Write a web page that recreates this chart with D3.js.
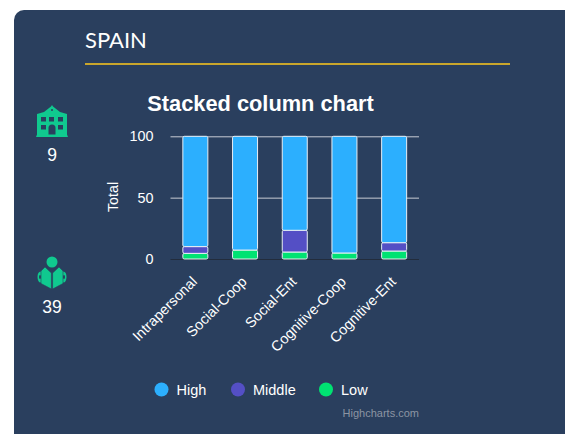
<!DOCTYPE html>
<html>
<head>
<meta charset="utf-8">
<script src="https://cdn.jsdelivr.net/npm/d3@7"></script>
<style>
  html, body { margin: 0; padding: 0; background: #fff; overflow: hidden; }
  text { font-family: "Liberation Sans", sans-serif; }
</style>
</head>
<body>
<div id="chart"></div>
<script>
const categories = ["Intrapersonal", "Social-Coop", "Social-Ent", "Cognitive-Coop", "Cognitive-Ent"];
const lowValues = [4.6, 7.3, 5.7, 4.9, 6.5];
const middleValues = [5.5, 0, 17.7, 0, 6.8];
const highValues = [89.9, 92.7, 76.6, 95.1, 86.7];
const seriesNames = ["High", "Middle", "Low"];
const seriesColors = ["#2caffe", "#544fc5", "#00e272"];
const yTicks = [0, 50, 100];

const canvasWidth = 565, canvasHeight = 434;
const cardColor = "#2a3f5e";
const iconColor = "#10c98f";

const svg = d3.select("#chart").append("svg")
  .attr("width", canvasWidth)
  .attr("height", canvasHeight)
  .style("display", "block");

// card runs off the right and bottom edges
svg.append("rect")
  .attr("x", 14).attr("y", 10)
  .attr("width", 600).attr("height", 480)
  .attr("rx", 10)
  .attr("fill", cardColor);

// header
svg.append("text")
  .attr("x", 85).attr("y", 48)
  .attr("fill", "#fff")
  .style("font-family", "Lato, sans-serif")
  .style("font-size", "22px")
  .text("SPAIN");

svg.append("line")
  .attr("x1", 85).attr("x2", 510)
  .attr("y1", 64).attr("y2", 64)
  .attr("stroke", "#c9a62c")
  .attr("stroke-width", 2);

//============ icons ============
const school = svg.append("g").attr("transform", "translate(52, 122)").attr("fill", iconColor);
school.append("path")
  .attr("d", "M-16,15 L-15,12.5 L-15,-8 L-8,-10 L-1,-15.5 L0,-17 L1,-15.5 L8,-10 L15,-8 L15,12.5 L16,15 Z");
school.append("circle").attr("cy", -12).attr("r", 1).attr("fill", cardColor);
school.append("g")
  .attr("fill", cardColor)
  .selectAll("rect")
  .data([[-11, -5], [-3, -5], [6, -5], [-11, 3], [6, 3]])
  .join("rect")
  .attr("x", (d) => d[0])
  .attr("y", (d) => d[1])
  .attr("width", 5)
  .attr("height", 4.5);
school.append("path")
  .attr("fill", cardColor)
  .attr("d", "M-3.5,12.5 L-3.5,6 A3.5,3.5 0 0 1 3.5,6 L3.5,12.5 Z");

const reader = svg.append("g").attr("transform", "translate(52, 273)").attr("fill", iconColor);
reader.append("circle").attr("cy", -11).attr("r", 5.5);
[-1, 1].forEach((side) => {
  reader.append("ellipse").attr("cx", side * 11.5).attr("cy", 4).attr("rx", 3).attr("ry", 5.5);
  reader.append("ellipse").attr("cx", side * 12).attr("cy", 4).attr("rx", 1).attr("ry", 2).attr("fill", cardColor);
  reader.append("path")
    .attr("d", `M${side * 0.6},0 L${side * 0.6},16 L${side * 11},10.5 L${side * 11},-2 L${side * 7},-6 Z`)
    .attr("stroke", cardColor)
    .attr("stroke-width", 0.6);
});

const counts = [[9, 52, 161], [39, 52, 312.5]];
svg.selectAll(".count")
  .data(counts)
  .join("text")
  .attr("class", "count")
  .attr("x", (d) => d[1])
  .attr("y", (d) => d[2])
  .attr("text-anchor", "middle")
  .attr("fill", "#fff")
  .style("font-size", "17.5px")
  .text((d) => d[0]);

//============ chart ============
svg.append("text")
  .attr("x", 260.5).attr("y", 111)
  .attr("text-anchor", "middle")
  .attr("fill", "#fff")
  .style("font-size", "21.8px")
  .style("font-weight", "bold")
  .text("Stacked column chart");

const x = d3.scaleBand().domain(categories).range([170.5, 419]).padding(0);
const y = d3.scaleLinear().domain([0, 100]).range([259, 136.3]);

const yAxis = svg.append("g")
  .attr("transform", "translate(170.5, 0)")
  .call(d3.axisLeft(y).tickValues(yTicks).tickSize(-248.5).tickPadding(17));
yAxis.select(".domain").remove();
yAxis.selectAll("line")
  .attr("stroke", (d) => (d === 0 ? "#222c3c" : "#c8ccd4"))
  .attr("stroke-width", 1);
yAxis.selectAll("text")
  .attr("fill", "#fff")
  .style("font-size", "14.4px")
  .style("font-family", "Liberation Sans, sans-serif");

svg.append("text")
  .attr("transform", "translate(118, 197) rotate(-90)")
  .attr("text-anchor", "middle")
  .attr("fill", "#fff")
  .style("font-size", "14.3px")
  .text("Total");

const table = categories.map((c, i) => ({ category: c, Low: lowValues[i], Middle: middleValues[i], High: highValues[i] }));
const stack = d3.stack().keys(["Low", "Middle", "High"]);
const color = d3.scaleOrdinal().domain(seriesNames).range(seriesColors);
const barWidth = 25;

svg.selectAll(".series")
  .data(stack(table))
  .join("g")
  .attr("class", "series")
  .attr("fill", (s) => color(s.key))
  .selectAll("rect")
  .data((s) => s.filter((d) => d[1] > d[0]))
  .join("rect")
  .attr("x", (d) => x(d.data.category) + (x.bandwidth() - barWidth) / 2)
  .attr("y", (d) => y(d[1]))
  .attr("width", barWidth)
  .attr("height", (d) => y(d[0]) - y(d[1]))
  .attr("rx", 1.5)
  .attr("stroke", "#e8eef4")
  .attr("stroke-width", 1);

const xAxis = svg.append("g")
  .attr("transform", "translate(0, 259)")
  .call(d3.axisBottom(x).tickSize(0));
xAxis.select(".domain").remove();
xAxis.selectAll("text")
  .attr("fill", "#fff")
  .attr("text-anchor", "end")
  .attr("transform", "translate(-1, 20) rotate(-45)")
  .attr("dy", "0.35em")
  .attr("y", 0)
  .style("font-size", "14.4px")
  .style("font-family", "Liberation Sans, sans-serif");

//============ legend ============
const legendX = [161.5, 238, 326];
const legend = svg.selectAll(".legend")
  .data(seriesNames)
  .join("g")
  .attr("class", "legend")
  .attr("transform", (d, i) => `translate(${legendX[i]}, 389.5)`);
legend.append("circle").attr("r", 7).attr("fill", (d) => color(d));
legend.append("text")
  .attr("x", 15).attr("y", 5)
  .attr("fill", "#fff")
  .style("font-size", "14.5px")
  .text((d) => d);

svg.append("text")
  .attr("x", 419).attr("y", 417)
  .attr("text-anchor", "end")
  .attr("fill", "#8c95a3")
  .style("font-size", "11px")
  .text("Highcharts.com");
</script>
</body>
</html>
